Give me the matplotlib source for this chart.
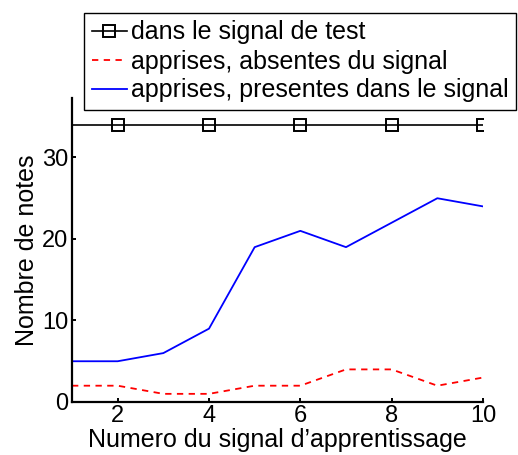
import matplotlib
matplotlib.use("Agg")
import matplotlib.pyplot as plt

plt.rcParams['font.family'] = ['Liberation Sans', 'DejaVu Sans']

# Data
signal_num = [1, 2, 3, 4, 5, 6, 7, 8, 9, 10]
test_notes = [34, 34, 34, 34, 34, 34, 34, 34, 34, 34]
learned_absent = [2, 2, 1, 1, 2, 2, 4, 4, 2, 3]
learned_present = [5, 5, 6, 9, 19, 21, 19, 22, 25, 24]

labels = ["dans le signal de test",
          "apprises, absentes du signal",
          "apprises, presentes dans le signal"]
xticks = [2, 4, 6, 8, 10]
yticks = [0, 10, 20, 30]

FS = 18
TICK_FS = 17
W, H = 518, 455
fig = plt.figure(figsize=(W / 100, H / 100), dpi=100)
ax = fig.add_axes([72 / W, 1 - 402 / H, (483 - 72) / W, (402 - 98) / H])

l1, = ax.plot(signal_num, test_notes, color='black', lw=1.2, marker='s',
              markevery=slice(1, None, 2), markersize=9,
              markerfacecolor='none', markeredgecolor='black', markeredgewidth=1.4)
l2, = ax.plot(signal_num, learned_absent, color='red', lw=1.3,
              dashes=(3.5, 3))
l3, = ax.plot(signal_num, learned_present, color='blue', lw=1.3)

ax.set_xlim(1, 10)
ax.set_ylim(0, 37.3)
ax.set_xticks(xticks)
ax.set_yticks(yticks)
ax.tick_params(direction='in', length=3, width=1.4, labelsize=TICK_FS, pad=2.5)
for side in ['top', 'right']:
    ax.spines[side].set_visible(False)
for side in ['left', 'bottom']:
    ax.spines[side].set_linewidth(1.6)

ax.set_xlabel("Numero du signal d\u2019apprentissage", fontsize=FS, labelpad=0.5)
ax.set_ylabel("Nombre de notes", fontsize=FS, labelpad=2)

leg = fig.legend([l1, l2, l3], labels, loc='upper left',
                 bbox_to_anchor=(84 / W, 1 - 13 / H), fontsize=FS,
                 frameon=True, fancybox=False, handlelength=1.4,
                 handletextpad=0.18, labelspacing=0.2, borderpad=0.3,
                 borderaxespad=0)
leg.get_frame().set_edgecolor('black')
leg.get_frame().set_linewidth(1.0)
leg.get_frame().set_alpha(1)

fig.savefig("out.png", dpi=100)
